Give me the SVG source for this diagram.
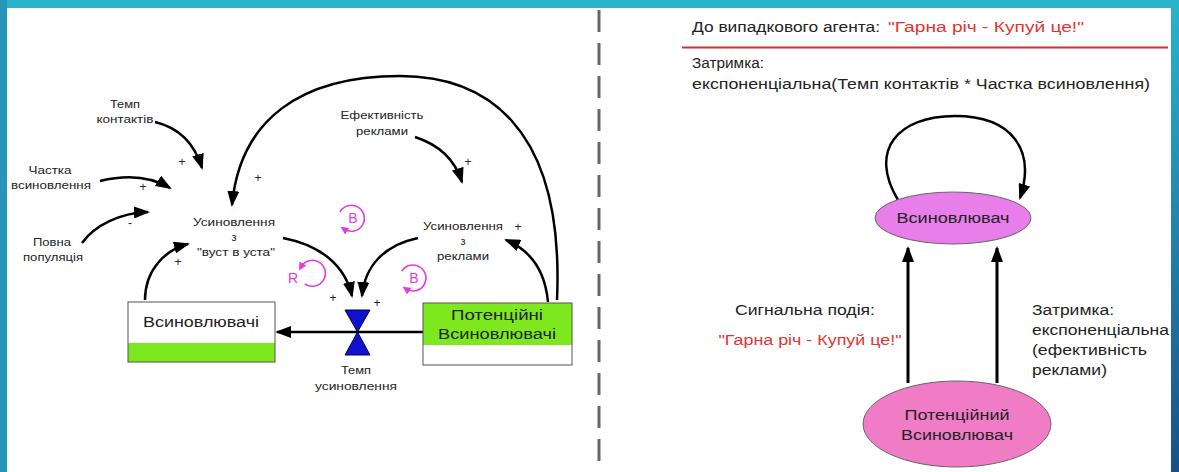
<svg xmlns="http://www.w3.org/2000/svg" width="1179" height="472" viewBox="0 0 1179 472">
<defs>
<marker id="ah" markerWidth="16" markerHeight="12" refX="14" refY="6" orient="auto" markerUnits="userSpaceOnUse"><path d="M0,0 L16,6 L0,12 z" fill="#000"/></marker>
<marker id="lm" markerWidth="8" markerHeight="8" refX="4" refY="4" orient="auto" markerUnits="userSpaceOnUse"><path d="M0,0 L8,4 L0,8 z" fill="#e03ce0"/></marker>
<linearGradient id="rb" x1="0" y1="0" x2="0" y2="1"><stop offset="0" stop-color="#2ab4cc"/><stop offset="1" stop-color="#1b4f86"/></linearGradient>
</defs>
<style>
.t{font-family:"Liberation Sans",Arial,sans-serif;fill:#222}
.s{font-size:11px}
.m{font-size:14px}
.red{fill:#e8322f}
.c{fill:none;stroke:#000;stroke-width:2.5}
.loop{fill:none;stroke:#e03ce0;stroke-width:1.6}
.ll{font-family:"Liberation Sans",Arial,sans-serif;font-size:14px;fill:#e03ce0}
</style>
<rect x="0" y="0" width="1179" height="472" fill="#fff"/>
<rect x="0" y="0" width="1179" height="8" fill="#2ab4cc"/>
<rect x="0" y="0" width="7" height="472" fill="#2596b8"/>
<rect x="1171" y="0" width="8" height="472" fill="url(#rb)"/>
<line x1="599" y1="10" x2="599" y2="466" stroke="#666" stroke-width="3" stroke-dasharray="22,11"/>

<g id="connectors">
<path class="c" d="M155,122 C180,128 195,145 202,168" marker-end="url(#ah)"/>
<path class="c" d="M100,181 C125,175 150,176 170,188" marker-end="url(#ah)"/>
<path class="c" d="M82,243 C95,225 120,213 148,212" marker-end="url(#ah)"/>
<path class="c" d="M557,300 C565,120 480,76 400,76 C300,76 240,120 232,205" marker-end="url(#ah)"/>
<path class="c" d="M145,300 C145,270 165,250 188,244" marker-end="url(#ah)"/>
<path class="c" d="M415,137 C440,145 455,160 462,182" marker-end="url(#ah)"/>
<path class="c" d="M548,302 C545,270 530,250 506,240" marker-end="url(#ah)"/>
<path class="c" d="M283,238 C320,245 345,265 352,296" marker-end="url(#ah)"/>
<path class="c" d="M418,238 C385,245 365,265 362,296" marker-end="url(#ah)"/>
<line x1="423" y1="332" x2="277" y2="332" stroke="#000" stroke-width="2.5" marker-end="url(#ah)"/>
<path class="c" d="M898,200 C868,150 898,116 955,116 C1012,116 1036,150 1020,198" marker-end="url(#ah)"/>
<line x1="908" y1="383" x2="908" y2="248" stroke="#000" stroke-width="3" marker-end="url(#ah)"/>
<line x1="997" y1="383" x2="997" y2="248" stroke="#000" stroke-width="3" marker-end="url(#ah)"/>
</g>

<g id="signs" class="t" font-size="12">
<text x="182" y="166" text-anchor="middle">+</text>
<text x="143" y="191" text-anchor="middle">+</text>
<text x="130" y="227" text-anchor="middle">-</text>
<text x="258" y="182" text-anchor="middle">+</text>
<text x="178" y="266" text-anchor="middle">+</text>
<text x="468" y="166" text-anchor="middle">+</text>
<text x="518" y="231" text-anchor="middle">+</text>
<text x="333" y="302" text-anchor="middle">+</text>
<text x="377" y="307" text-anchor="middle">+</text>
</g>

<g id="loop-b1">
<path class="loop" d="M340,212 A13,13 0 1 1 344,229" marker-end="url(#lm)"/>
<text class="ll" x="353" y="223" text-anchor="middle">B</text>
</g>
<g id="loop-r">
<path class="loop" d="M305,284 A13,13 0 1 0 301,267" marker-end="url(#lm)"/>
<text class="ll" x="293" y="283" text-anchor="middle">R</text>
</g>
<g id="loop-b2">
<path class="loop" d="M402,271 A13,13 0 1 1 406,289" marker-end="url(#lm)"/>
<text class="ll" x="414" y="283" text-anchor="middle">B</text>
</g>

<g id="temp-kontaktiv" class="t s" text-anchor="middle">
<text x="125" y="108" textLength="30" lengthAdjust="spacingAndGlyphs">Темп</text>
<text x="125" y="123" textLength="57" lengthAdjust="spacingAndGlyphs">контактів</text>
</g>
<g id="chastka" class="t s" text-anchor="middle">
<text x="50" y="174" textLength="43" lengthAdjust="spacingAndGlyphs">Частка</text>
<text x="51" y="189" textLength="80" lengthAdjust="spacingAndGlyphs">всиновлення</text>
</g>
<g id="povna" class="t s" text-anchor="middle">
<text x="52" y="246" textLength="38" lengthAdjust="spacingAndGlyphs">Повна</text>
<text x="53" y="261" textLength="60" lengthAdjust="spacingAndGlyphs">популяція</text>
</g>
<g id="usynovlennya-vust" class="t s" text-anchor="middle">
<text x="234" y="226" textLength="82" lengthAdjust="spacingAndGlyphs">Усиновлення</text>
<text x="234" y="241">з</text>
<text x="236" y="256" textLength="78" lengthAdjust="spacingAndGlyphs">"вуст в уста"</text>
</g>
<g id="efektyvnist" class="t s" text-anchor="middle">
<text x="382" y="119" textLength="83" lengthAdjust="spacingAndGlyphs">Ефективність</text>
<text x="382" y="135" textLength="52" lengthAdjust="spacingAndGlyphs">реклами</text>
</g>
<g id="usynovlennya-reklamy" class="t s" text-anchor="middle">
<text x="463" y="230" textLength="80" lengthAdjust="spacingAndGlyphs">Усиновлення</text>
<text x="463" y="245">з</text>
<text x="463" y="260" textLength="52" lengthAdjust="spacingAndGlyphs">реклами</text>
</g>

<g id="vsynovlyuvachi">
<rect x="128" y="302" width="147" height="60" fill="#fff"/>
<rect x="128" y="343" width="147" height="19" fill="#7ee81e"/>
<rect x="128" y="302" width="147" height="60" fill="none" stroke="#555" stroke-width="1"/>
<text class="t" x="201" y="327" font-size="14" text-anchor="middle" textLength="116" lengthAdjust="spacingAndGlyphs">Всиновлювачі</text>
</g>
<g id="potentsiini">
<rect x="423" y="303" width="149" height="62" fill="#fff"/>
<rect x="423" y="303" width="149" height="42" fill="#7ee81e"/>
<rect x="423" y="303" width="149" height="62" fill="none" stroke="#555" stroke-width="1"/>
<text class="t" x="497" y="320" font-size="14" text-anchor="middle" textLength="92" lengthAdjust="spacingAndGlyphs" fill="#1a3a0a">Потенційні</text>
<text class="t" x="497" y="339" font-size="14" text-anchor="middle" textLength="118" lengthAdjust="spacingAndGlyphs" fill="#1a3a0a">Всиновлювачі</text>
</g>
<g id="valve">
<path d="M345,310 L370,310 L357.5,332 z M345,355 L370,355 L357.5,332 z" fill="#1010d0" stroke="#000050" stroke-width="1"/>
<text class="t s" x="356" y="374" text-anchor="middle" textLength="30" lengthAdjust="spacingAndGlyphs">Темп</text>
<text class="t s" x="356" y="390" text-anchor="middle" textLength="82" lengthAdjust="spacingAndGlyphs">усиновлення</text>
</g>

<g id="header">
<text class="t m" x="692" y="32" textLength="188" lengthAdjust="spacingAndGlyphs">До випадкового агента:</text>
<text class="t m red" x="888" y="32" textLength="196" lengthAdjust="spacingAndGlyphs">"Гарна річ - Купуй це!"</text>
<line x1="682" y1="47.5" x2="1168" y2="47.5" stroke="#d03030" stroke-width="2"/>
<text class="t m" x="692" y="68" textLength="72" lengthAdjust="spacingAndGlyphs">Затримка:</text>
<text class="t m" x="692" y="89" textLength="458" lengthAdjust="spacingAndGlyphs">експоненціальна(Темп контактів * Частка всиновлення)</text>
</g>

<g id="agent-vsynovlyuvach">
<ellipse cx="953" cy="218" rx="78" ry="26" fill="#e77ee9" stroke="#666" stroke-width="1"/>
<text class="t m" x="953" y="223" text-anchor="middle" fill="#3a0a4a" textLength="113" lengthAdjust="spacingAndGlyphs">Всиновлювач</text>
</g>
<g id="agent-potentsiinyi">
<ellipse cx="957" cy="424" rx="94" ry="43" fill="#f07cc6" stroke="#666" stroke-width="1"/>
<text class="t m" x="957" y="420" text-anchor="middle" fill="#3a0a2a" textLength="105" lengthAdjust="spacingAndGlyphs">Потенційний</text>
<text class="t m" x="957" y="440" text-anchor="middle" fill="#3a0a2a" textLength="112" lengthAdjust="spacingAndGlyphs">Всиновлювач</text>
</g>
<g id="label-signal" class="t m" text-anchor="middle">
<text x="805" y="315" textLength="140" lengthAdjust="spacingAndGlyphs">Сигнальна подія:</text>
<text x="810" y="345" class="red" textLength="183" lengthAdjust="spacingAndGlyphs">"Гарна річ - Купуй це!"</text>
</g>
<g id="label-delay" class="t m">
<text x="1032" y="315" textLength="82" lengthAdjust="spacingAndGlyphs">Затримка:</text>
<text x="1032" y="335" textLength="137" lengthAdjust="spacingAndGlyphs">експоненціальна</text>
<text x="1032" y="355" textLength="115" lengthAdjust="spacingAndGlyphs">(ефективність</text>
<text x="1032" y="375" textLength="75" lengthAdjust="spacingAndGlyphs">реклами)</text>
</g>
</svg>
